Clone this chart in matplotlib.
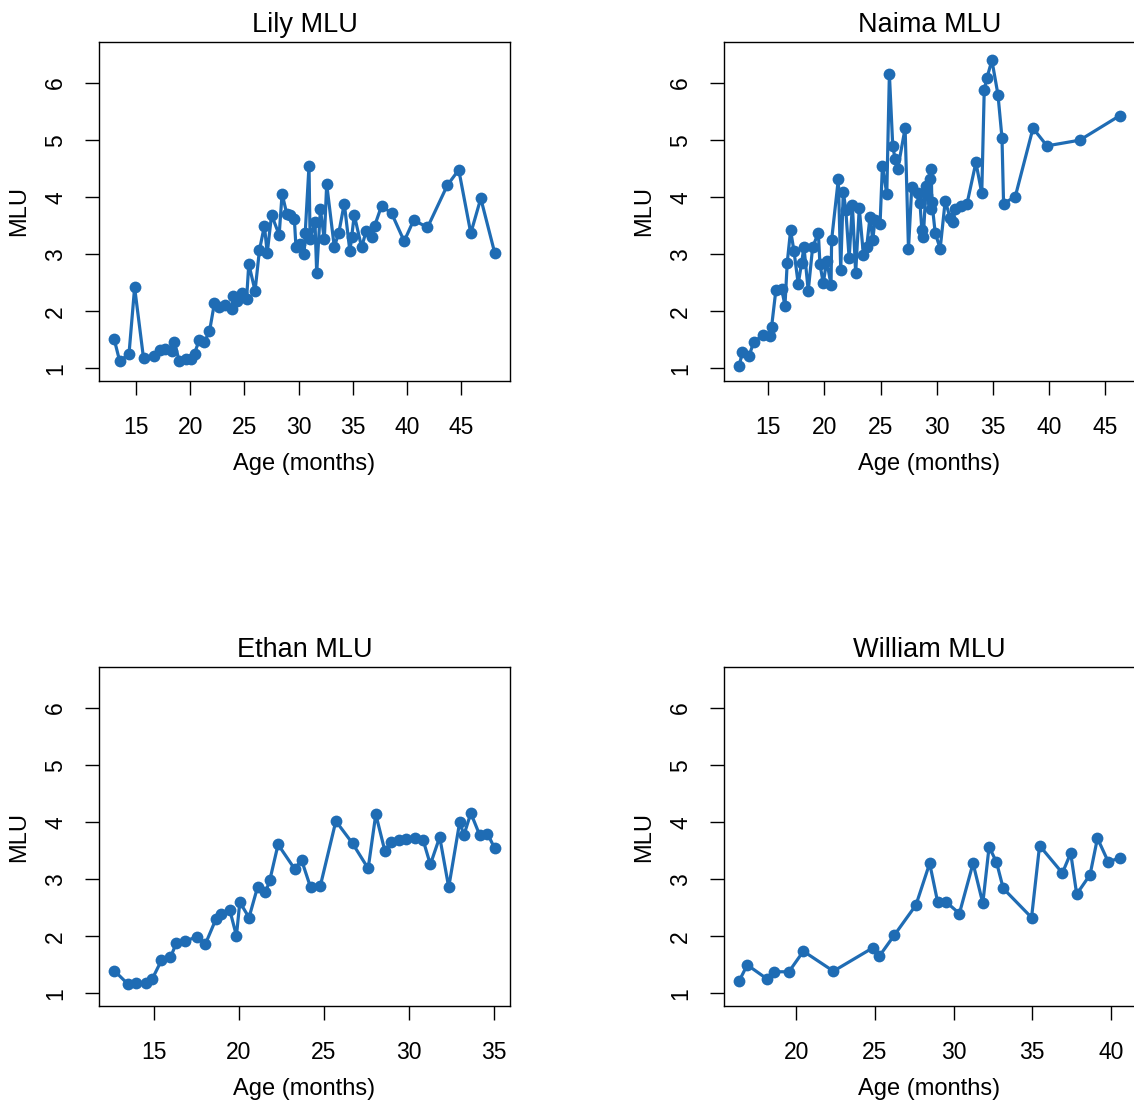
import matplotlib
matplotlib.use("Agg")
import matplotlib.pyplot as plt

plt.rcParams["font.family"] = ["Liberation Sans", "DejaVu Sans"]

# Mean length of utterance by age (months) for each child
lily_age = [13.0, 13.5, 14.36, 14.88, 15.7, 16.69, 17.24, 17.7, 18.28, 18.53,
            19.0, 19.6, 20.06, 20.4, 20.83, 21.3, 21.78, 22.24, 22.67, 23.2,
            23.83, 23.99, 24.3, 24.75, 25.2, 25.4, 25.98, 26.38, 26.84, 27.1,
            27.5, 28.2, 28.47, 28.9, 29.2, 29.6, 29.75, 30.1, 30.5, 30.6,
            30.95, 31.05, 31.5, 31.66, 32.0, 32.36, 32.58, 33.28, 33.7, 34.2,
            34.72, 34.88, 35.12, 35.8, 36.2, 36.8, 37.0, 37.64, 38.56, 39.72,
            40.6, 41.87, 43.7, 44.75, 45.86, 46.78, 48.07]
lily_mlu = [1.51, 1.13, 1.25, 2.42, 1.18, 1.22, 1.33, 1.34, 1.31, 1.46,
            1.13, 1.16, 1.16, 1.26, 1.5, 1.46, 1.65, 2.15, 2.08, 2.12,
            2.05, 2.27, 2.19, 2.33, 2.22, 2.83, 2.36, 3.07, 3.5, 3.02,
            3.69, 3.34, 4.06, 3.71, 3.69, 3.62, 3.12, 3.18, 3.0, 3.37,
            4.55, 3.26, 3.57, 2.67, 3.79, 3.26, 4.23, 3.13, 3.38, 3.89,
            3.05, 3.3, 3.69, 3.12, 3.4, 3.31, 3.5, 3.85, 3.72, 3.23,
            3.6, 3.47, 4.21, 4.48, 3.37, 3.98, 3.02]

naima_age = [12.42, 12.71, 13.3, 13.72, 14.55, 15.2, 15.3, 15.68, 16.19, 16.49,
             16.69, 16.99, 17.29, 17.67, 17.97, 18.18, 18.56, 18.95, 19.46, 19.6,
             19.9, 20.2, 20.59, 20.64, 21.24, 21.45, 21.68, 21.9, 22.2, 22.49,
             22.78, 23.1, 23.47, 23.76, 24.06, 24.3, 24.5, 24.95, 25.16, 25.55,
             25.78, 26.08, 26.29, 26.53, 27.18, 27.48, 27.77, 28.37, 28.5, 28.67,
             28.8, 29.05, 29.17, 29.35, 29.47, 29.5, 29.56, 29.86, 30.3, 30.75,
             31.19, 31.4, 31.64, 32.14, 32.68, 33.48, 34.0, 34.22, 34.46, 34.9,
             35.44, 35.8, 35.94, 36.98, 38.56, 39.8, 42.72, 46.28]
naima_mlu = [1.05, 1.29, 1.22, 1.47, 1.58, 1.57, 1.73, 2.37, 2.40, 2.10,
             2.85, 3.42, 3.06, 2.48, 2.85, 3.13, 2.36, 3.12, 3.38, 2.83,
             2.49, 2.89, 2.46, 3.25, 4.32, 2.73, 4.1, 3.78, 2.93, 3.87,
             2.67, 3.81, 2.99, 3.13, 3.66, 3.25, 3.6, 3.53, 4.55, 4.06,
             6.16, 4.9, 4.67, 4.5, 5.21, 3.09, 4.18, 4.07, 3.9, 3.43,
             3.31, 4.19, 4.04, 4.32, 3.8, 4.49, 3.92, 3.37, 3.1, 3.94,
             3.63, 3.57, 3.79, 3.84, 3.88, 4.61, 4.07, 5.88, 6.09, 6.40,
             5.80, 5.04, 3.89, 4.01, 5.21, 4.9, 5.0, 5.43]

ethan_age = [12.67, 13.49, 13.98, 14.53, 14.9, 15.45, 15.98, 16.33, 16.82, 17.55,
             18.04, 18.65, 18.98, 19.47, 19.86, 20.06, 20.6, 21.1, 21.57, 21.82,
             22.31, 23.29, 23.69, 24.22, 24.8, 25.71, 26.69, 27.61, 28.06, 28.59,
             28.98, 29.43, 29.86, 30.35, 30.84, 31.27, 31.82, 32.35, 33.0, 33.24,
             33.65, 34.18, 34.63, 35.06]
ethan_mlu = [1.40, 1.16, 1.18, 1.18, 1.25, 1.58, 1.63, 1.89, 1.92, 1.99,
             1.87, 2.30, 2.39, 2.46, 2.01, 2.60, 2.33, 2.86, 2.77, 2.98,
             3.61, 3.18, 3.34, 2.86, 2.89, 4.02, 3.63, 3.19, 4.14, 3.50,
             3.66, 3.68, 3.71, 3.73, 3.69, 3.26, 3.74, 2.86, 4.01, 3.77,
             4.16, 3.77, 3.80, 3.54]

william_age = [16.37, 16.88, 18.11, 18.58, 19.53, 20.45, 22.36, 24.87, 25.27, 26.23,
               27.61, 28.48, 28.99, 29.54, 30.37, 31.24, 31.86, 32.26, 32.73, 33.16,
               34.96, 35.47, 36.92, 37.45, 37.83, 38.68, 39.15, 39.83, 40.57]
william_mlu = [1.22, 1.50, 1.26, 1.38, 1.38, 1.74, 1.39, 1.80, 1.65, 2.02,
               2.55, 3.28, 2.60, 2.60, 2.40, 3.28, 2.58, 3.57, 3.30, 2.84,
               2.33, 3.59, 3.11, 3.46, 2.74, 3.08, 3.72, 3.31, 3.37]

titles = ["Lily MLU", "Naima MLU", "Ethan MLU", "William MLU"]
ages = [lily_age, naima_age, ethan_age, william_age]
mlus = [lily_mlu, naima_mlu, ethan_mlu, william_mlu]
xticks = [[15, 20, 25, 30, 35, 40, 45],
          [15, 20, 25, 30, 35, 40, 45],
          [15, 20, 25, 30, 35],
          [20, 25, 30, 35, 40]]
yticks = [1, 2, 3, 4, 5, 6]
ylim_data = (1.0, 6.5)

LINE = "#1f6cb4"
W, H = 1134, 1105
fig = plt.figure(figsize=(W / 100, H / 100), dpi=100)

# panel boxes in pixels: (left, top)
boxes = [(99, 42), (724, 42), (99, 667), (724, 667)]
bw, bh = 411, 339


def padded(lo, hi, frac=0.04):
    d = (hi - lo) * frac
    return lo - d, hi + d


for i in range(4):
    left, top = boxes[i]
    ax = fig.add_axes([left / W, 1 - (top + bh) / H, bw / W, bh / H])
    ax.plot(ages[i], mlus[i], color=LINE, lw=2.3, marker="o", ms=8.5,
            markeredgewidth=0, solid_joinstyle="round", clip_on=False)
    ax.set_xlim(*padded(min(ages[i]), max(ages[i])))
    ax.set_ylim(*padded(*ylim_data))
    ax.set_xticks(xticks[i])
    ax.set_yticks(yticks)
    ax.set_yticklabels([str(v) for v in yticks], rotation=90, va="center")
    ax.tick_params(direction="out", length=10, width=1.0, labelsize=16.5,
                   colors="black")
    ax.tick_params(axis="x", pad=15)
    ax.tick_params(axis="y", pad=13)
    for s in ax.spines.values():
        s.set_linewidth(1.0)
    ax.set_title(titles[i], fontsize=19.5, pad=7)
    ax.set_xlabel("Age (months)", fontsize=17, labelpad=10)
    ax.set_ylabel("MLU", fontsize=17, labelpad=10)

fig.savefig("out.png", dpi=100, facecolor="white")
